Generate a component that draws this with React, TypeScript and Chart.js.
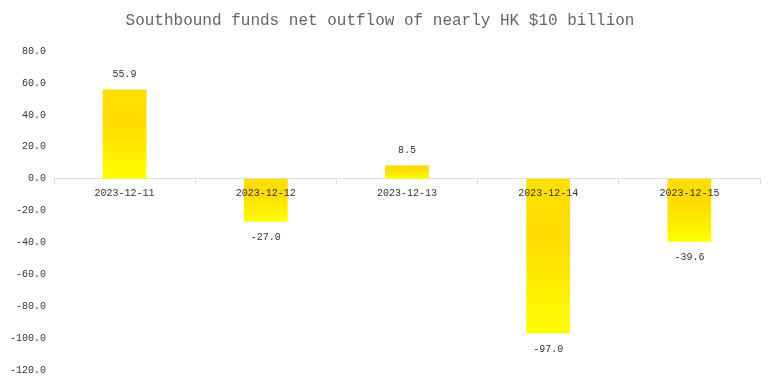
import React, { useEffect, useRef } from "react";
import { Chart, registerables } from "chart.js";

Chart.register(...registerables);

const categories = ["2023-12-11", "2023-12-12", "2023-12-13", "2023-12-14", "2023-12-15"];
const netFlow = [55.9, -27.0, 8.5, -97.0, -39.6];
const yTicksMin = -120;
const yTicksMax = 80;
const yTickStep = 20;
const titleText = "Southbound funds net outflow of nearly HK $10 billion";

const FONT = "'Liberation Mono', 'DejaVu Sans Mono', monospace";

const valueLabels = {
  id: "valueLabels",
  afterDatasetsDraw(chart: any) {
    const ctx = chart.ctx;
    const meta = chart.getDatasetMeta(0);
    ctx.save();
    ctx.font = `10px ${FONT}`;
    ctx.fillStyle = "#333";
    ctx.textAlign = "center";
    ctx.textBaseline = "middle";
    meta.data.forEach((el: any, i: number) => {
      const v = netFlow[i];
      const y = v >= 0 ? el.y - 15 : el.y + 16;
      ctx.fillText(v.toFixed(1), el.x, y);
    });
    ctx.restore();
  },
};

export default function App() {
  const ref = useRef<HTMLCanvasElement | null>(null);
  useEffect(() => {
    document.body.style.margin = "0";
    const chart = new Chart(ref.current!, {
      type: "bar",
      data: {
        labels: categories,
        datasets: [
          {
            data: netFlow,
            barPercentage: 0.62,
            categoryPercentage: 0.5,
            backgroundColor: (c: any) => {
              const ch = c.chart;
              const ys = ch.scales && ch.scales.y;
              if (!ch.chartArea || !ys || c.dataIndex === undefined) return "#FFE000";
              const v = netFlow[c.dataIndex];
              const p1 = ys.getPixelForValue(v);
              const p0 = ys.getPixelForValue(0);
              const top = Math.min(p0, p1);
              const bot = Math.max(p0, p1);
              if (!isFinite(top) || bot - top < 1) return "#FFE000";
              const g = ch.ctx.createLinearGradient(0, top, 0, bot);
              g.addColorStop(0, "#FFE100");
              g.addColorStop(0.35, "#FFDA00");
              g.addColorStop(1, "#FFFF00");
              return g;
            },
          },
        ],
      },
      options: {
        animation: false,
        responsive: false,
        layout: { padding: { top: 0, bottom: 14, left: 0, right: 15 } },
        plugins: {
          legend: { display: false },
          tooltip: { enabled: false },
          title: {
            display: true,
            text: titleText,
            color: "#666",
            font: { family: FONT, size: 16, weight: "normal" },
            padding: { top: 11, bottom: 21 },
          },
        },
        scales: {
          x: {
            position: { y: 0 } as any,
            grid: {
              display: true,
              drawOnChartArea: false,
              drawTicks: true,
              tickLength: 5,
              color: "#ddd",
              offset: true,
            },
            border: { display: true, color: "#ddd" },
            ticks: {
              z: 1,
              color: "#333",
              font: { family: FONT, size: 10 },
              padding: 4,
              maxRotation: 0,
            },
          },
          y: {
            min: yTicksMin,
            max: yTicksMax,
            grid: { display: false, drawTicks: false },
            border: { display: false },
            ticks: {
              stepSize: yTickStep,
              color: "#333",
              font: { family: FONT, size: 10 },
              padding: 8,
              callback: (v: any) => Number(v).toFixed(1),
            },
            afterFit: (s: any) => {
              s.width = 54;
            },
          },
        },
      },
      plugins: [valueLabels],
    });
    return () => chart.destroy();
  }, []);
  return (
    <div style={{ width: 775, height: 384 }}>
      <canvas ref={ref} width={775} height={384} />
    </div>
  );
}
